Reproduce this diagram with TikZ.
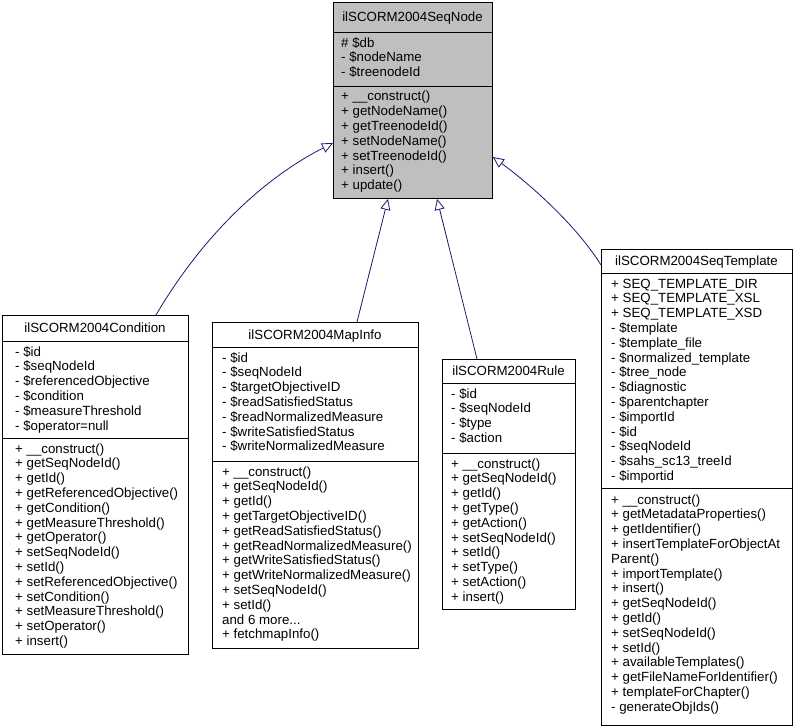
\documentclass[tikz,border=0pt]{standalone}
\usepackage{fontspec}
\setmainfont{Liberation Sans}
\usetikzlibrary{arrows.meta,calc}
\definecolor{mblue}{HTML}{191970}
\definecolor{basegray}{HTML}{BFBFBF}
\newcommand\clsfont{\fontsize{13.3}{14.8}\selectfont}
\tikzset{
  cls/.style={draw=black, fill=white, line width=0.9pt, inner sep=0pt, anchor=north west},
  ctitle/.style={anchor=base, inner sep=0pt, font=\clsfont},
  cbody/.style={anchor=north west, inner sep=0pt, align=left, font=\clsfont},
  sep/.style={draw=black, line width=0.9pt},
  inh/.style={draw=mblue, line width=0.8pt, -{Triangle[open, length=11pt, width=10pt]}}
}
\begin{document}
\begin{tikzpicture}[x=1pt,y=-1pt]
\path[use as bounding box, fill=white] (0,0) rectangle (797,727);

% base class
\node[cls, fill=basegray, minimum width=159pt, minimum height=196pt] (base) at (333,2) {};
\draw[sep] ($(base.north west)+(0,30)$) -- ($(base.north east)+(0,30)$);
\draw[sep] ($(base.north west)+(0,84)$) -- ($(base.north east)+(0,84)$);
\node[ctitle] (baset) at (412.5,21.5) {ilSCORM2004SeqNode};
\node[cbody] (basea) at (341,36.5) {\strut\# \$db\\- \$nodeName\\- \$treenodeId};
\node[cbody] (basem) at (341,90.3) {\strut+ \_\_construct()\\+ getNodeName()\\+ getTreenodeId()\\+ setNodeName()\\+ setTreenodeId()\\+ insert()\\+ update()};

% Condition
\node[cls, minimum width=186pt, minimum height=339pt] (cond) at (2,315) {};
\draw[sep] ($(cond.north west)+(0,26)$) -- ($(cond.north east)+(0,26)$);
\draw[sep] ($(cond.north west)+(0,123)$) -- ($(cond.north east)+(0,123)$);
\node[ctitle] (condt) at (95,332.5) {ilSCORM2004Condition};
\node[cbody] (conda) at (15,345.5) {\strut- \$id\\- \$seqNodeId\\- \$referencedObjective\\- \$condition\\- \$measureThreshold\\- \$operator=null};
\node[cbody] (condm) at (15,442.5) {\strut+ \_\_construct()\\+ getSeqNodeId()\\+ getId()\\+ getReferencedObjective()\\+ getCondition()\\+ getMeasureThreshold()\\+ getOperator()\\+ setSeqNodeId()\\+ setId()\\+ setReferencedObjective()\\+ setCondition()\\+ setMeasureThreshold()\\+ setOperator()\\+ insert()};

% MapInfo
\node[cls, minimum width=206pt, minimum height=326pt] (map) at (212,322) {};
\draw[sep] ($(map.north west)+(0,25)$) -- ($(map.north east)+(0,25)$);
\draw[sep] ($(map.north west)+(0,139)$) -- ($(map.north east)+(0,139)$);
\node[ctitle] (mapt) at (315,339) {ilSCORM2004MapInfo};
\node[cbody] (mapa) at (222,351.5) {\strut- \$id\\- \$seqNodeId\\- \$targetObjectiveID\\- \$readSatisfiedStatus\\- \$readNormalizedMeasure\\- \$writeSatisfiedStatus\\- \$writeNormalizedMeasure};
\node[cbody] (mapm) at (222,465.5) {\strut+ \_\_construct()\\+ getSeqNodeId()\\+ getId()\\+ getTargetObjectiveID()\\+ getReadSatisfiedStatus()\\+ getReadNormalizedMeasure()\\+ getWriteSatisfiedStatus()\\+ getWriteNormalizedMeasure()\\+ setSeqNodeId()\\+ setId()\\and 6 more...\\+ fetchmapInfo()};

% Rule
\node[cls, minimum width=133pt, minimum height=250pt] (rule) at (442,359) {};
\draw[sep] ($(rule.north west)+(0,24)$) -- ($(rule.north east)+(0,24)$);
\draw[sep] ($(rule.north west)+(0,94)$) -- ($(rule.north east)+(0,94)$);
\node[ctitle] (rulet) at (508.5,375.5) {ilSCORM2004Rule};
\node[cbody] (rulea) at (451,387.5) {\strut- \$id\\- \$seqNodeId\\- \$type\\- \$action};
\node[cbody] (rulem) at (451,457.5) {\strut+ \_\_construct()\\+ getSeqNodeId()\\+ getId()\\+ getType()\\+ getAction()\\+ setSeqNodeId()\\+ setId()\\+ setType()\\+ setAction()\\+ insert()};

% SeqTemplate
\node[cls, minimum width=191pt, minimum height=476pt] (tmpl) at (601,249) {};
\draw[sep] ($(tmpl.north west)+(0,24)$) -- ($(tmpl.north east)+(0,24)$);
\draw[sep] ($(tmpl.north west)+(0,239)$) -- ($(tmpl.north east)+(0,239)$);
\node[ctitle] (tmplt) at (696.5,265.5) {ilSCORM2004SeqTemplate};
\node[cbody] (tmpla) at (611,277.5) {\strut+ SEQ\_TEMPLATE\_DIR\\+ SEQ\_TEMPLATE\_XSL\\+ SEQ\_TEMPLATE\_XSD\\- \$template\\- \$template\_file\\- \$normalized\_template\\- \$tree\_node\\- \$diagnostic\\- \$parentchapter\\- \$importId\\- \$id\\- \$seqNodeId\\- \$sahs\_sc13\_treeId\\- \$importid};
\node[cbody] (tmplm) at (611,493.5) {\strut+ \_\_construct()\\+ getMetadataProperties()\\+ getIdentifier()\\+ insertTemplateForObjectAt\\Parent()\\+ importTemplate()\\+ insert()\\+ getSeqNodeId()\\+ getId()\\+ setSeqNodeId()\\+ setId()\\+ availableTemplates()\\+ getFileNameForIdentifier()\\+ templateForChapter()\\- generateObjIds()};

% inheritance connectors
\draw[inh] ($(cond.north west)+(154,0)$) .. controls (200,240) and (260,180) .. ($(base.north west)+(0,141)$);
\draw[inh] ($(map.north west)+(145,0)$) -- ($(base.south west)+(55,0)$);
\draw[inh] ($(rule.north west)+(35,0)$) -- ($(base.south west)+(104,0)$);
\draw[inh] ($(tmpl.north west)+(0,16)$) .. controls (578,228) and (535,188) .. ($(base.north east)+(0,155)$);
\end{tikzpicture}
\end{document}
